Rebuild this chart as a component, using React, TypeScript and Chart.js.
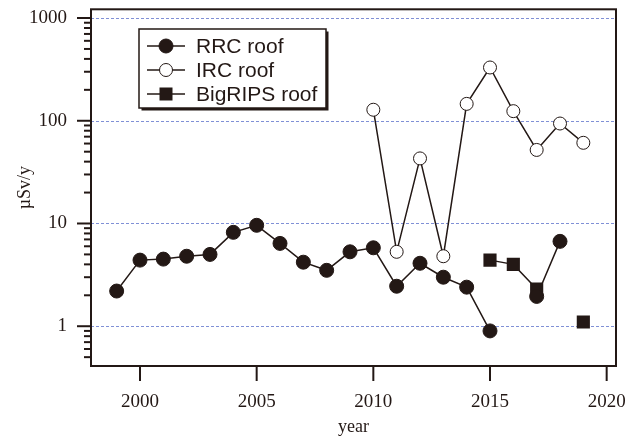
import React, { useEffect, useRef } from "react";
import { Chart, registerables } from "chart.js";

Chart.register(...registerables);

const years = [1999, 2000, 2001, 2002, 2003, 2004, 2005, 2006, 2007, 2008, 2009, 2010, 2011, 2012, 2013, 2014, 2015, 2016, 2017, 2018, 2019];
const rrcRoof: (number | null)[] = [2.2, 4.4, 4.5, 4.8, 5.0, 8.2, 9.6, 6.4, 4.2, 3.5, 5.3, 5.8, 2.45, 4.1, 3.0, 2.4, 0.9, null, 1.95, 6.7, null];
const ircRoof: (number | null)[] = [null, null, null, null, null, null, null, null, null, null, null, 128, 5.3, 43, 4.8, 146, 330, 124, 52, 94, 61];
const bigripsRoof: (number | null)[] = [null, null, null, null, null, null, null, null, null, null, null, null, null, null, null, null, 4.4, 4.0, 2.3, null, 1.1];

const xTicks = [2000, 2005, 2010, 2015, 2020];
const yMajorTicks = [1, 10, 100, 1000];
const yMinorTicks = [0.5, 0.6, 0.7, 0.8, 0.9, 2, 3, 4, 5, 6, 7, 8, 9, 20, 30, 40, 50, 60, 70, 80, 90, 200, 300, 400, 500, 600, 700, 800, 900];
const seriesNames = ["RRC roof", "IRC roof", "BigRIPS roof"];

const INK = "#231815";
const GRID = "#8090d6";

const toPoints = (vals: (number | null)[]) => years.map((x, i) => ({ x, y: vals[i] }));

const framePlugin = {
  id: "framePlugin",
  beforeDatasetsDraw(chart: any) {
    const { ctx, chartArea } = chart;
    const y = chart.scales.y;
    ctx.save();
    ctx.strokeStyle = GRID;
    ctx.lineWidth = 1;
    ctx.setLineDash([3, 2]);
    for (const v of yMajorTicks) {
      const py = Math.round(y.getPixelForValue(v)) + 0.5;
      ctx.beginPath();
      ctx.moveTo(chartArea.left, py);
      ctx.lineTo(chartArea.right, py);
      ctx.stroke();
    }
    ctx.restore();
  },
  afterDraw(chart: any) {
    const { ctx, chartArea } = chart;
    const x = chart.scales.x;
    const y = chart.scales.y;
    ctx.save();
    ctx.strokeStyle = INK;
    ctx.lineWidth = 2;
    ctx.setLineDash([]);
    ctx.strokeRect(chartArea.left, chartArea.top, chartArea.right - chartArea.left, chartArea.bottom - chartArea.top);
    for (const v of yMajorTicks) {
      const py = y.getPixelForValue(v);
      ctx.beginPath();
      ctx.moveTo(chartArea.left - 14, py);
      ctx.lineTo(chartArea.left, py);
      ctx.stroke();
    }
    for (const v of yMinorTicks) {
      const py = y.getPixelForValue(v);
      ctx.beginPath();
      ctx.moveTo(chartArea.left - 7, py);
      ctx.lineTo(chartArea.left, py);
      ctx.stroke();
    }
    for (const v of xTicks) {
      const px = x.getPixelForValue(v);
      ctx.beginPath();
      ctx.moveTo(px, chartArea.bottom);
      ctx.lineTo(px, chartArea.bottom + 15);
      ctx.stroke();
    }
    // legend
    const bx = 139, by = 29, bw = 187, bh = 79;
    ctx.fillStyle = INK;
    ctx.fillRect(bx + 2.5, by + 2.5, bw, bh);
    ctx.fillStyle = "#ffffff";
    ctx.fillRect(bx, by, bw, bh);
    ctx.lineWidth = 1.5;
    ctx.strokeRect(bx, by, bw, bh);
    const rows = [46, 70, 94];
    ctx.font = "21px 'Liberation Sans', Arial, sans-serif";
    ctx.textBaseline = "middle";
    rows.forEach((ry, i) => {
      ctx.strokeStyle = INK;
      ctx.lineWidth = 1.5;
      ctx.beginPath();
      ctx.moveTo(147, ry);
      ctx.lineTo(185, ry);
      ctx.stroke();
      if (i === 2) {
        ctx.fillStyle = INK;
        ctx.fillRect(166 - 6.5, ry - 6.5, 13, 13);
      } else {
        ctx.beginPath();
        ctx.arc(166, ry, i === 0 ? 7 : 6.5, 0, Math.PI * 2);
        ctx.fillStyle = i === 0 ? INK : "#ffffff";
        ctx.fill();
        ctx.lineWidth = 1;
        ctx.stroke();
      }
      ctx.fillStyle = INK;
      ctx.fillText(seriesNames[i], 196, ry + 1);
    });
    ctx.restore();
  },
};

export default function App() {
  const ref = useRef<HTMLCanvasElement | null>(null);
  useEffect(() => {
    document.body.style.margin = "0";
    const canvas = ref.current!;
    const serif = "'Liberation Serif', 'Times New Roman', serif";
    const chart = new Chart(canvas, {
      type: "line",
      data: {
        datasets: [
          {
            label: seriesNames[0],
            data: toPoints(rrcRoof) as any,
            borderColor: INK,
            backgroundColor: INK,
            borderWidth: 1.5,
            pointStyle: "circle",
            pointRadius: 7,
            pointBorderWidth: 1,
            spanGaps: false,
          },
          {
            label: seriesNames[1],
            data: toPoints(ircRoof) as any,
            borderColor: INK,
            backgroundColor: "#ffffff",
            borderWidth: 1.5,
            pointStyle: "circle",
            pointRadius: 6.5,
            pointBorderWidth: 1,
            spanGaps: false,
          },
          {
            label: seriesNames[2],
            data: toPoints(bigripsRoof) as any,
            borderColor: INK,
            backgroundColor: INK,
            borderWidth: 1.5,
            pointStyle: "rect",
            pointRadius: 9.3,
            pointBorderWidth: 0,
            spanGaps: false,
          },
        ],
      },
      options: {
        animation: false,
        responsive: false,
        maintainAspectRatio: false,
        events: [],
        layout: { padding: { top: 5, right: 25, left: 0, bottom: 0 } },
        plugins: { legend: { display: false }, tooltip: { enabled: false } },
        scales: {
          x: {
            type: "linear",
            min: 1997.9,
            max: 2020.4,
            grid: { display: false, drawTicks: false },
            border: { display: false },
            afterBuildTicks: (s: any) => {
              s.ticks = xTicks.map((v) => ({ value: v }));
            },
            afterFit: (s: any) => {
              s.height = 73;
              s.paddingLeft = 0;
              s.paddingRight = 0;
            },
            ticks: {
              padding: 25,
              maxRotation: 0,
              autoSkip: false,
              color: INK,
              font: { family: serif, size: 19 },
              callback: (v: any) => String(v),
            },
            title: {
              display: true,
              text: "year",
              color: INK,
              font: { family: serif, size: 18 },
              padding: { top: 0, bottom: 1 },
            },
          },
          y: {
            type: "logarithmic",
            min: 0.41,
            max: 1216,
            grid: { display: false, drawTicks: false },
            border: { display: false },
            afterBuildTicks: (s: any) => {
              s.ticks = yMajorTicks.map((v) => ({ value: v }));
            },
            afterFit: (s: any) => {
              s.width = 91;
              s.paddingTop = 0;
              s.paddingBottom = 0;
            },
            ticks: {
              padding: 24,
              autoSkip: false,
              color: INK,
              font: { family: serif, size: 19 },
              callback: (v: any) => String(v),
            },
            title: {
              display: true,
              text: "µSv/y",
              color: INK,
              font: { family: serif, size: 18 },
              padding: { top: 14, bottom: 0 },
            },
          },
        },
      },
      plugins: [framePlugin],
    });
    return () => chart.destroy();
  }, []);
  return (
    <div style={{ width: 641, height: 439 }}>
      <canvas ref={ref} width={641} height={439} style={{ display: "block", width: 641, height: 439 }} />
    </div>
  );
}
